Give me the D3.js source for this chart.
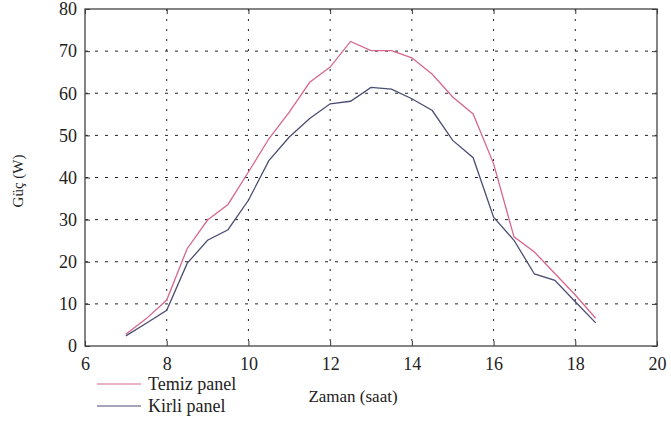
<!DOCTYPE html>
<html><head><meta charset="utf-8">
<script src="https://cdn.jsdelivr.net/npm/d3@7/dist/d3.min.js"></script>
</head><body style="margin:0;background:#fff"><svg id="c" width="671" height="423" font-family="Liberation Serif" style="display:block"></svg>
<script>
const hours = [7,7.5,8,8.5,9,9.5,10,10.5,11,11.5,12,12.5,13,13.5,14,14.5,15,15.5,16,16.5,17,17.5,18,18.5];
const temiz = [2.8,6.5,10.9,23.1,29.9,33.6,41.3,49.2,55.5,62.6,66.2,72.3,70.1,70.1,68.4,64.5,59.1,55.1,43.3,25.9,22.3,17.2,12.1,6.6];
const kirli = [2.4,5.4,8.5,19.6,25.1,27.6,34.6,44.0,49.6,54.0,57.5,58.1,61.4,61.0,58.7,55.9,48.8,44.7,30.6,25.1,17.1,15.6,10.5,5.5];
const xTicks = [6,8,10,12,14,16,18,20];
const yTicks = [0,10,20,30,40,50,60,70,80];
const seriesNames = ["Temiz panel","Kirli panel"];
const colors = ["#d6678f","#4a4d74"];

const FONT = '"Liberation Serif", monospace';
const svg = d3.select("#c");
const L=85, R=657, T=9, B=346;
const x = d3.scaleLinear().domain([6,20]).range([L,R]);
const y = d3.scaleLinear().domain([0,80]).range([B,T]);

// grid
const g = svg.append("g");
g.selectAll(".vg").data(xTicks.slice(1,-1)).join("line")
  .attr("x1",d=>x(d)).attr("x2",d=>x(d)).attr("y1",T).attr("y2",B)
  .attr("stroke","#222").attr("stroke-width",1).attr("stroke-dasharray","2,8");
g.selectAll(".hg").data(yTicks.slice(1,-1)).join("line")
  .attr("y1",d=>y(d)).attr("y2",d=>y(d)).attr("x1",L).attr("x2",R)
  .attr("stroke","#222").attr("stroke-width",1).attr("stroke-dasharray","3,7");

// lines
const line = d3.line().x((d,i)=>x(hours[i])).y(d=>y(d));
[temiz,kirli].forEach((s,k)=>{
  svg.append("path").datum(s).attr("d",line).attr("fill","none")
    .attr("stroke",colors[k]).attr("stroke-width",1.3);
});

// axes (ticks inward)
const ax1 = svg.append("g").attr("transform",`translate(0,${B})`)
  .call(d3.axisBottom(x).tickValues(xTicks).tickSizeInner(-5).tickSizeOuter(0).tickPadding(11));
const ax2 = svg.append("g").attr("transform",`translate(${L},0)`)
  .call(d3.axisLeft(y).tickValues(yTicks).tickSizeInner(-5).tickSizeOuter(0).tickPadding(8));
svg.append("g").attr("transform",`translate(0,${T})`)
  .call(d3.axisTop(x).tickValues(xTicks).tickSizeInner(-5).tickSizeOuter(0).tickFormat(""))
  .call(a=>a.select(".domain").remove());
svg.append("g").attr("transform",`translate(${R},0)`)
  .call(d3.axisRight(y).tickValues(yTicks).tickSizeInner(-5).tickSizeOuter(0).tickFormat(""))
  .call(a=>a.select(".domain").remove());
[ax1,ax2].forEach(a=>{a.select(".domain").remove(); a.attr("font-family",FONT).attr("font-size",18);});
ax1.selectAll("text").attr("dy","0.72em");
svg.selectAll(".tick line").attr("stroke","#333");
svg.selectAll(".tick text").attr("fill","#222");

svg.append("rect").attr("x",L).attr("y",T).attr("width",R-L).attr("height",B-T)
  .attr("fill","none").attr("stroke","#444").attr("stroke-width",1.3);

// labels
svg.append("text").attr("transform","translate(23,181) rotate(-90)")
  .attr("text-anchor","middle").attr("font-size",15).attr("font-family",FONT).attr("fill","#222").text("Güç (W)");
svg.append("text").attr("x",353).attr("y",402).attr("text-anchor","middle")
  .attr("font-size",17).attr("font-family",FONT).attr("fill","#222").text("Zaman (saat)");

// legend
seriesNames.forEach((n,k)=>{
  const yy = 384 + k*22;
  svg.append("line").attr("x1",97).attr("x2",141).attr("y1",yy).attr("y2",yy)
    .attr("stroke",colors[k]).attr("stroke-width",1.2);
  svg.append("text").attr("x",148).attr("y",yy+6).attr("font-size",18)
    .attr("font-family",FONT).attr("fill","#222").text(n);
});
</script></body></html>
